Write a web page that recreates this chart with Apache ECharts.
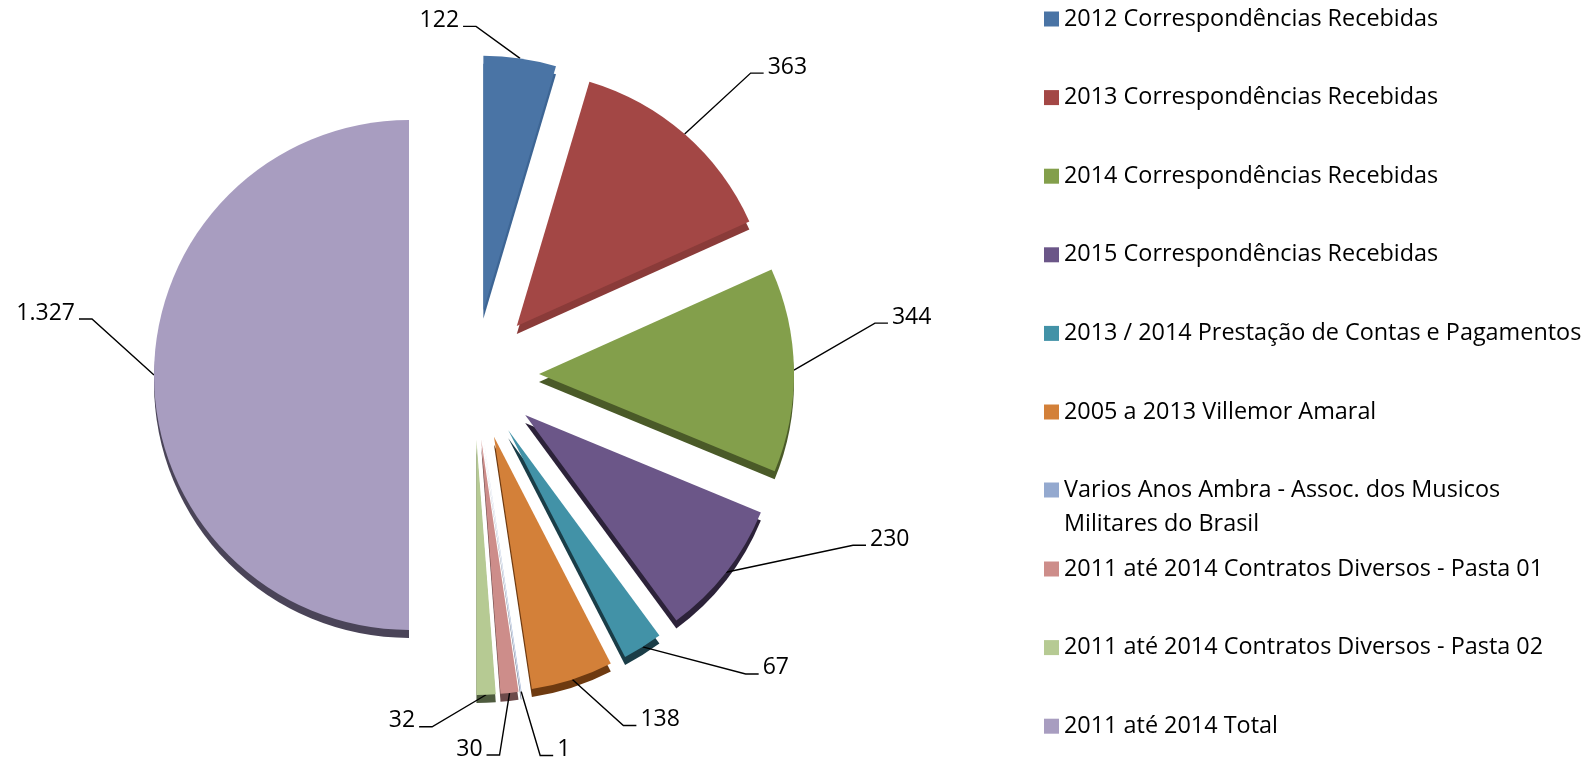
<!DOCTYPE html>
<html>
<head>
<meta charset="utf-8">
<title>Correspondências</title>
<script src="https://cdn.jsdelivr.net/npm/echarts@6/dist/echarts.min.js"></script>
<style>
  html, body { margin: 0; padding: 0; background: #fff; }
  #chart { width: 1583px; height: 765px; }
</style>
</head>
<body>
<div id="chart"></div>
<script>
// slice names, in the order they go round the pie (clockwise from 12 o'clock)
var categories = [
	"2012 Correspondências Recebidas",
	"2013 Correspondências Recebidas",
	"2014 Correspondências Recebidas",
	"2015 Correspondências Recebidas",
	"2013 / 2014 Prestação de Contas e Pagamentos",
	"2005 a 2013 Villemor Amaral",
	"Varios Anos Ambra - Assoc. dos Musicos Militares do Brasil",
	"2011 até 2014 Contratos Diversos - Pasta 01",
	"2011 até 2014 Contratos Diversos - Pasta 02",
	"2011 até 2014 Total"
];
var values = [122, 363, 344, 230, 67, 138, 1, 30, 32, 1327];

// top face and darker "3D" side of each slice
var faceColors = ["#4A74A5", "#A34745", "#839F4B", "#6B5688", "#4292A7",
	"#D38039", "#94A9CF", "#CD8D8A", "#B6CA93", "#A89DC0"];
var sideColors = ["#3D6594", "#8A3B39", "#4A5A28", "#2C2239", "#1A3D47",
	"#6E3A10", "#5C6A85", "#6E4A4A", "#4E5B3E", "#4A4458"];

// where the leader line of each label ends, relative to its anchor on the slice
// [dx, dy, side of the text]
var labelSpots = [[-57, -32, "L"], [79, -61, "R"], [94, -47, "R"], [140, -27, "R"],
	[116, 27, "R"], [64, 46, "R"], [32, 64, "R"], [-23, 62, "L"], [-67, 32, "L"], [-75, -56, "L"]];

var fontFamily = "'Open Sans', 'Noto Sans', sans-serif";

function formatValue(v) {
	// pt-BR thousands separator
	return String(v).replace(/\B(?=(\d{3})+(?!\d))/g, ".");
}

function placeLabel(params) {
	var spot = labelSpots[params.dataIndex];
	var pts = params.labelLinePoints;
	if (!spot || !pts) {
		return {};
	}
	var p0 = pts[0], p2 = pts[2];
	var defaultRight = pts[1][0] >= p0[0];
	var w = params.labelRect.width;
	var ex = p0[0] + spot[0], ey = p0[1] + spot[1];
	var toRight = spot[2] === "R";
	var elbow = [ex + (toRight ? -13 : 13), ey];
	var wantLeft = toRight ? ex + 4 : ex - 4 - w;
	var haveLeft = defaultRight ? p2[0] : p2[0] - w;
	return {
		dx: wantLeft - haveLeft,
		dy: ey - 6 - p2[1],
		labelLinePoints: [p0, elbow, [ex, ey]]
	};
}

function buildData(colors) {
	var data = [];
	for (var i = 0; i < categories.length; i++) {
		data.push({
			name: categories[i],
			value: values[i],
			selected: true,
			itemStyle: { color: colors[i] }
		});
	}
	return data;
}

function legendBlock(names, top, lineHeight, formatter) {
	var legend = {
		orient: "vertical",
		left: 1044,
		top: top,
		padding: 0,
		itemGap: 52.6,
		itemWidth: 15,
		itemHeight: 15,
		icon: "rect",
		selectedMode: false,
		data: names,
		textStyle: {
			fontFamily: fontFamily,
			fontSize: 23.4,
			color: "#000",
			lineHeight: lineHeight
		}
	};
	if (formatter) {
		legend.formatter = formatter;
	}
	return legend;
}

var pieCenter = [474, 375];
var pieRadius = 255;

var chart = echarts.init(document.getElementById("chart"), null, { renderer: "canvas" });
chart.setOption({
	animation: false,
	backgroundColor: "#fff",
	legend: [
		legendBlock(categories.slice(0, 6), 6, 26),
		legendBlock(categories.slice(6, 7), 439, 34, function(name) {
			return "\nVarios Anos Ambra - Assoc. dos Musicos\nMilitares do Brasil";
		}),
		legendBlock(categories.slice(7), 556, 26)
	],
	series: [{
		name: "face",
		type: "pie",
		z: 3,
		center: pieCenter,
		radius: pieRadius,
		startAngle: 90,
		clockwise: true,
		selectedMode: "multiple",
		selectedOffset: 65,
		avoidLabelOverlap: false,
		emphasis: { disabled: true },
		itemStyle: { borderWidth: 0 },
		label: {
			show: true,
			position: "outer",
			alignTo: "none",
			distanceToLabelLine: 0,
			formatter: function(p) { return formatValue(p.value); },
			fontFamily: fontFamily,
			fontSize: 23,
			color: "#000"
		},
		labelLine: {
			show: true,
			length: 10,
			length2: 10,
			smooth: false,
			lineStyle: { color: "#000", width: 1.4 }
		},
		labelLayout: placeLabel,
		data: buildData(faceColors)
	}, {
		name: "side",
		type: "pie",
		z: 2,
		silent: true,
		center: [pieCenter[0], pieCenter[1] + 8],
		radius: pieRadius,
		startAngle: 90,
		clockwise: true,
		selectedMode: "multiple",
		selectedOffset: 65,
		emphasis: { disabled: true },
		itemStyle: { borderWidth: 0 },
		label: { show: false },
		labelLine: { show: false },
		data: buildData(sideColors)
	}]
});
</script>
</body>
</html>
